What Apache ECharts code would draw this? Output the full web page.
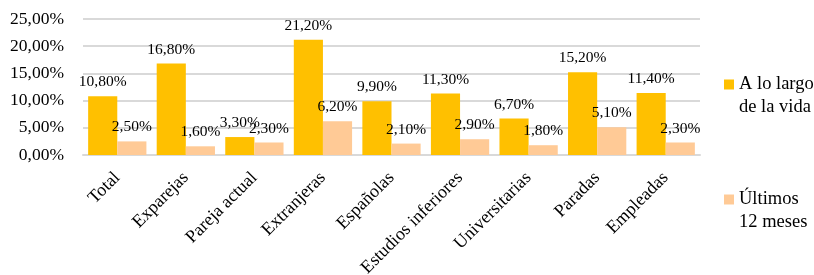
<!DOCTYPE html>
<html lang="es" style="height: 100%">

<head>
  <meta charset="utf-8" />
</head>

<body style="height: 100%; margin: 0; background: #fff">
  <div id="container" style="width: 814px; height: 275px"></div>

  <script type="text/javascript" src="https://cdn.jsdelivr.net/npm/echarts@6/dist/echarts.min.js"></script>

  <script type="text/javascript">
    // datos
    var categories = ["Total", "Exparejas", "Pareja actual", "Extranjeras", "Españolas",
      "Estudios inferiores", "Universitarias", "Paradas", "Empleadas"];
    var seriesNames = ["A lo largo de la vida", "Últimos 12 meses"];
    var vida = [10.8, 16.8, 3.3, 21.2, 9.9, 11.3, 6.7, 15.2, 11.4];
    var ultimos = [2.5, 1.6, 2.3, 6.2, 2.1, 2.9, 1.8, 5.1, 2.3];

    var FONT = "'Liberation Serif', 'Times New Roman', serif";

    function pct(v) {
      return v.toFixed(2).replace(".", ",") + "%";
    }

    var dom = document.getElementById("container");
    var myChart = echarts.init(dom, null, { renderer: "canvas" });

    var barLabel = {
      show: true,
      position: "top",
      distance: 6,
      formatter: function (p) { return pct(p.value); },
      fontFamily: FONT,
      fontSize: 15.5,
      color: "#000"
    };

    var option = {
      animation: false,
      textStyle: { fontFamily: FONT },
      grid: {
        left: 83, right: 114, top: 19, bottom: 120,
        containLabel: false,
        outerBoundsMode: "none"
      },
      legend: {
        orient: "vertical",
        left: 719,
        top: 45,
        itemWidth: 10,
        itemHeight: 10,
        itemGap: 46,
        icon: "rect",
        data: seriesNames,
        // linea vacia delante para que el icono quede a la altura de la primera linea
        formatter: function (name) {
          return name === seriesNames[0] ? "\nA lo largo\nde la vida" : "\nÚltimos\n12 meses";
        },
        textStyle: {
          fontFamily: FONT,
          fontSize: 18.5,
          color: "#000",
          lineHeight: 23
        }
      },
      xAxis: {
        type: "category",
        data: categories,
        axisTick: { show: false },
        axisLine: { lineStyle: { color: "#d9d9d9", width: 2 } },
        axisLabel: {
          rotate: 45,
          interval: 0,
          margin: 20,
          fontFamily: FONT,
          fontSize: 18,
          color: "#000"
        }
      },
      yAxis: {
        type: "value",
        min: 0,
        max: 25,
        interval: 5,
        axisLine: { show: false },
        axisTick: { show: false },
        splitLine: { lineStyle: { color: "#d9d9d9", width: 2 } },
        axisLabel: {
          formatter: pct,
          margin: 19,
          fontFamily: FONT,
          fontSize: 17.5,
          color: "#000"
        }
      },
      series: [
        {
          name: seriesNames[0],
          type: "bar",
          data: vida,
          barGap: "0%",
          barCategoryGap: "15%",
          itemStyle: { color: "#FFC000" },
          label: barLabel
        },
        {
          name: seriesNames[1],
          type: "bar",
          data: ultimos,
          barGap: "0%",
          barCategoryGap: "15%",
          itemStyle: { color: "#FFCA96" },
          label: barLabel
        }
      ]
    };

    myChart.setOption(option);
    window.addEventListener("resize", myChart.resize);
  </script>
</body>

</html>
